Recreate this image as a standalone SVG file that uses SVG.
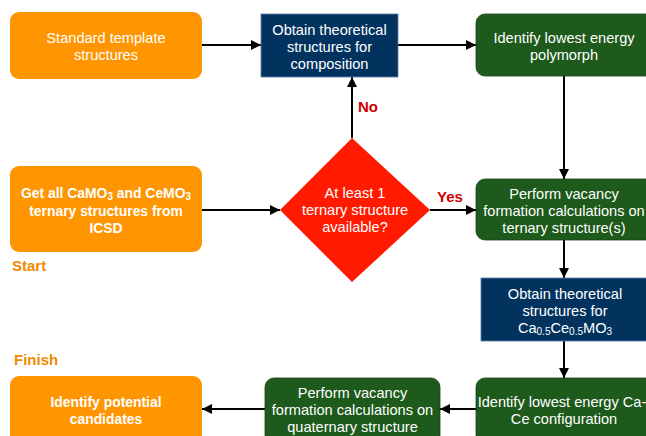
<svg xmlns="http://www.w3.org/2000/svg" width="646" height="436" viewBox="0 0 646 436">
<defs>
<marker id="ah" viewBox="0 0 10 10" refX="10" refY="5" markerWidth="10" markerHeight="10" markerUnits="userSpaceOnUse" orient="auto">
<path d="M0,0 L10,5 L0,10 z" fill="#000"/>
</marker>
<style>
.t{font-family:"Liberation Sans",Arial,sans-serif;font-size:14.6px;fill:#fff;text-anchor:middle}
.b{font-weight:bold;font-size:13.9px}
.org{fill:#FF9500}
.navy{fill:#02335F;stroke:#5a7fa8;stroke-width:0.8}
.grn{fill:#1E5A1B;stroke:#16421a;stroke-width:0.8}
.lbl{font-family:"Liberation Sans",Arial,sans-serif;font-size:15px;font-weight:bold}
.c{fill:none;stroke:#000;stroke-width:2;marker-end:url(#ah)}
</style>
</defs>
<rect width="646" height="436" fill="#fff"/>
<g id="connectors">
<line class="c" x1="202" y1="45" x2="261" y2="45"/>
<line class="c" x1="398" y1="45" x2="476" y2="45"/>
<line class="c" x1="202" y1="210" x2="280" y2="210"/>
<line class="c" x1="430" y1="210" x2="476" y2="210"/>
<line class="c" x1="352" y1="138" x2="352" y2="77"/>
<line class="c" x1="564" y1="76" x2="564" y2="179"/>
<line class="c" x1="564" y1="240" x2="564" y2="278"/>
<line class="c" x1="564" y1="341" x2="564" y2="378"/>
<line class="c" x1="476" y1="409" x2="440" y2="409"/>
<line class="c" x1="265" y1="409" x2="202" y2="409"/>
<text class="lbl" x="358" y="112" fill="#CC0000">No</text>
<text class="lbl" x="437" y="202" fill="#CC0000">Yes</text>
</g>
<g id="standard">
<rect class="org" x="10" y="12" width="192" height="67" rx="9"/>
<text class="t" x="106" y="43">Standard template</text>
<text class="t" x="106" y="60">structures</text>
</g>
<g id="obtain1">
<rect class="navy" x="261" y="14" width="137" height="63"/>
<text class="t" x="329.5" y="35">Obtain theoretical</text>
<text class="t" x="329.5" y="52">structures for</text>
<text class="t" x="329.5" y="69">composition</text>
</g>
<g id="polymorph">
<rect class="grn" x="476" y="14" width="180" height="62" rx="9"/>
<text class="t" x="564" y="43">Identify lowest energy</text>
<text class="t" x="564" y="60">polymorph</text>
</g>
<g id="getall">
<rect class="org" x="10" y="166" width="192" height="86" rx="9"/>
<text class="t b" x="106" y="198">Get all CaMO<tspan font-size="10" dy="2">3</tspan><tspan dy="-2"> and CeMO</tspan><tspan font-size="10" dy="2">3</tspan></text>
<text class="t b" x="106" y="216">ternary structures from</text>
<text class="t b" x="106" y="233">ICSD</text>
</g>
<text class="lbl" x="12" y="271" fill="#F08A00">Start</text>
<g id="decision">
<polygon points="352,138 430,210 352,282 280,210" fill="#FF1A00"/>
<text class="t" x="355" y="198">At least 1</text>
<text class="t" x="355" y="215">ternary structure</text>
<text class="t" x="355" y="232">available?</text>
</g>
<g id="vacancy1">
<rect class="grn" x="476" y="179" width="180" height="61" rx="9"/>
<text class="t" x="564" y="199">Perform vacancy</text>
<text class="t" x="564" y="216">formation calculations on</text>
<text class="t" x="564" y="233">ternary structure(s)</text>
</g>
<g id="obtain2">
<rect class="navy" x="481" y="278" width="170" height="63"/>
<text class="t" x="565" y="299">Obtain theoretical</text>
<text class="t" x="565" y="316">structures for</text>
<text class="t" x="565" y="333">Ca<tspan font-size="10" dy="2">0.5</tspan><tspan dy="-2">Ce</tspan><tspan font-size="10" dy="2">0.5</tspan><tspan dy="-2">MO</tspan><tspan font-size="10" dy="2">3</tspan></text>
</g>
<text class="lbl" x="14" y="365" fill="#F08A00">Finish</text>
<g id="config">
<rect class="grn" x="476" y="378" width="180" height="66" rx="9"/>
<text class="t" x="562" y="407" font-size="14.2">Identify lowest energy Ca-</text>
<text class="t" x="564" y="424">Ce configuration</text>
</g>
<g id="vacancy2">
<rect class="grn" x="265" y="378" width="175" height="66" rx="9"/>
<text class="t" x="352.5" y="398">Perform vacancy</text>
<text class="t" x="352.5" y="415">formation calculations on</text>
<text class="t" x="352.5" y="432">quaternary structure</text>
</g>
<g id="candidates">
<rect class="org" x="10" y="376" width="192" height="68" rx="9"/>
<text class="t b" x="106" y="407">Identify potential</text>
<text class="t b" x="106" y="424">candidates</text>
</g>
</svg>
